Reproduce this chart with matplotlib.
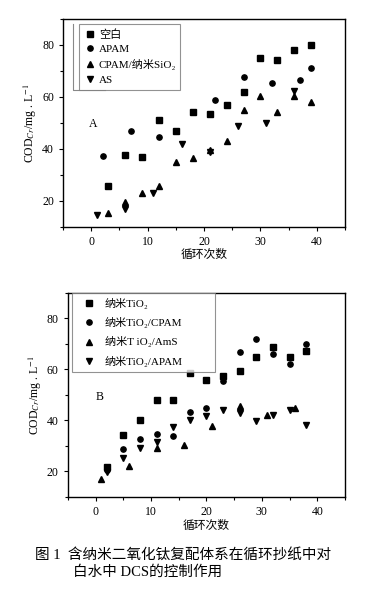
#!/usr/bin/env python3

import matplotlib
matplotlib.use('Agg')
import matplotlib.pyplot as plt
from matplotlib.lines import Line2D
from matplotlib.ticker import MultipleLocator

plt.rcParams['font.family'] = ['Liberation Serif', 'Noto Sans CJK SC', 'DejaVu Serif']
plt.rcParams['mathtext.fontset'] = 'stix'

# panel A
a_blank_x = [3, 6, 9, 12, 15, 18, 21, 24, 27, 30, 33, 36, 39]
a_blank_y = [25.8, 37.7, 36.8, 51.2, 47.0, 54.0, 53.4, 56.8, 61.7, 75.0, 74.1, 78.0, 80.0]
a_apam_x = [2, 7, 12, 22, 27, 32, 37, 39]
a_apam_y = [37.1, 46.9, 44.4, 58.8, 67.5, 65.2, 66.6, 71.1]
a_cpam_x = [3, 6, 9, 12, 15, 18, 21, 24, 27, 30, 33, 36, 39]
a_cpam_y = [15.1, 19.4, 22.9, 25.6, 35.0, 36.6, 39.6, 43.1, 54.9, 60.2, 54.3, 60.3, 58.0]
a_as_x = [1, 6, 11, 16, 21, 26, 31, 36]
a_as_y = [14.6, 16.8, 22.9, 41.9, 38.9, 48.7, 49.9, 62.2]

# panel B
b_x = [2, 5, 8, 11, 14, 17, 20, 23, 26, 29, 32, 35, 38]
b_tio2_y = [21.7, 34.1, 40.2, 47.8, 47.8, 58.5, 56.0, 57.5, 59.4, 64.7, 68.6, 64.9, 67.2]
b_cpam_y = [20.7, 28.9, 32.8, 34.5, 34.0, 43.1, 44.8, 55.5, 66.8, 71.9, 66.1, 62.0, 69.9]
b_ams_x = [1, 6, 11, 16, 21, 26, 31, 36]
b_ams_y = [16.9, 22.2, 29.3, 30.2, 37.7, 45.5, 42.3, 44.9]
b_apam_y = [19.6, 25.2, 29.0, 31.5, 37.4, 40.0, 41.6, 44.0, 42.9, 39.8, 42.3, 44.0, 38.3]

labels_a = ['空白', 'APAM', 'CPAM/纳米SiO₂', 'AS']
labels_b = ['纳米TiO₂', '纳米TiO₂/CPAM', '纳米T iO₂/AmS', '纳米TiO₂/APAM']
markers = ['s', 'o', '^', 'v']
ylabel = 'COD$_{Cr}$/mg . L$^{-1}$'
xlabel = '循环次数'


def style_axes(ax):
    ax.set_xlim(-5, 45)
    ax.set_ylim(10, 90)
    ax.xaxis.set_major_locator(MultipleLocator(10))
    ax.xaxis.set_minor_locator(MultipleLocator(5))
    ax.yaxis.set_major_locator(MultipleLocator(20))
    ax.yaxis.set_minor_locator(MultipleLocator(10))
    ax.tick_params(which='major', direction='out', length=3, width=0.8, labelsize=8.5)
    ax.tick_params(which='minor', direction='out', length=2, width=0.8)
    for s in ax.spines.values():
        s.set_linewidth(1.0)
    ax.set_ylabel(ylabel, fontsize=8.5, labelpad=2)
    ax.set_xlabel(xlabel, fontsize=8.5, labelpad=1)


def draw_panel(ax, series, labels, bbox, spacing, hlen):
    for (x, y), m, lab in zip(series, markers, labels):
        ax.plot(x, y, m, color='black', ms=3.8, label=lab, linestyle='none')
    leg = ax.legend(loc='upper left', bbox_to_anchor=bbox, mode='expand', borderaxespad=0,
                    fontsize=8, frameon=True, fancybox=False, handletextpad=0.3,
                    handlelength=hlen, labelspacing=spacing, borderpad=0.45)
    leg.get_frame().set_edgecolor('#777777')
    leg.get_frame().set_linewidth(0.8)
    return leg


fig = plt.figure(figsize=(3.67, 5.92), dpi=100)

ax1 = fig.add_axes([0.172, 0.617, 0.768, 0.351])
style_axes(ax1)
draw_panel(ax1, [(a_blank_x, a_blank_y), (a_apam_x, a_apam_y),
                 (a_cpam_x, a_cpam_y), (a_as_x, a_as_y)],
           labels_a, (0.057, 0.649, 0.358, 0.327), 0.45, 1.0)
# stray frame line left of the legend
ax1.add_line(Line2D([0.035, 0.035, 0.149], [0.976, 0.659, 0.659],
                    transform=ax1.transAxes, color='#888888', lw=0.8))
ax1.text(0.3, 49.4, 'A', fontsize=8.5, ha='center', va='center')

ax2 = fig.add_axes([0.185, 0.1605, 0.755, 0.345])
style_axes(ax2)
draw_panel(ax2, [(b_x, b_tio2_y), (b_x, b_cpam_y),
                 (b_ams_x, b_ams_y), (b_x, b_apam_y)],
           labels_b, (0.014, 0.607, 0.517, 0.393), 0.75, 2.2)
ax2.text(0.7, 49.0, 'B', fontsize=8.5, ha='center', va='center')

fig.text(0.095, 0.062, '图 1  含纳米二氧化钛复配体系在循环抄纸中对', fontsize=10.5, va='center')
fig.text(0.198, 0.033, '白水中 DCS的控制作用', fontsize=10.5, va='center')

fig.savefig('out.png', dpi=100)
